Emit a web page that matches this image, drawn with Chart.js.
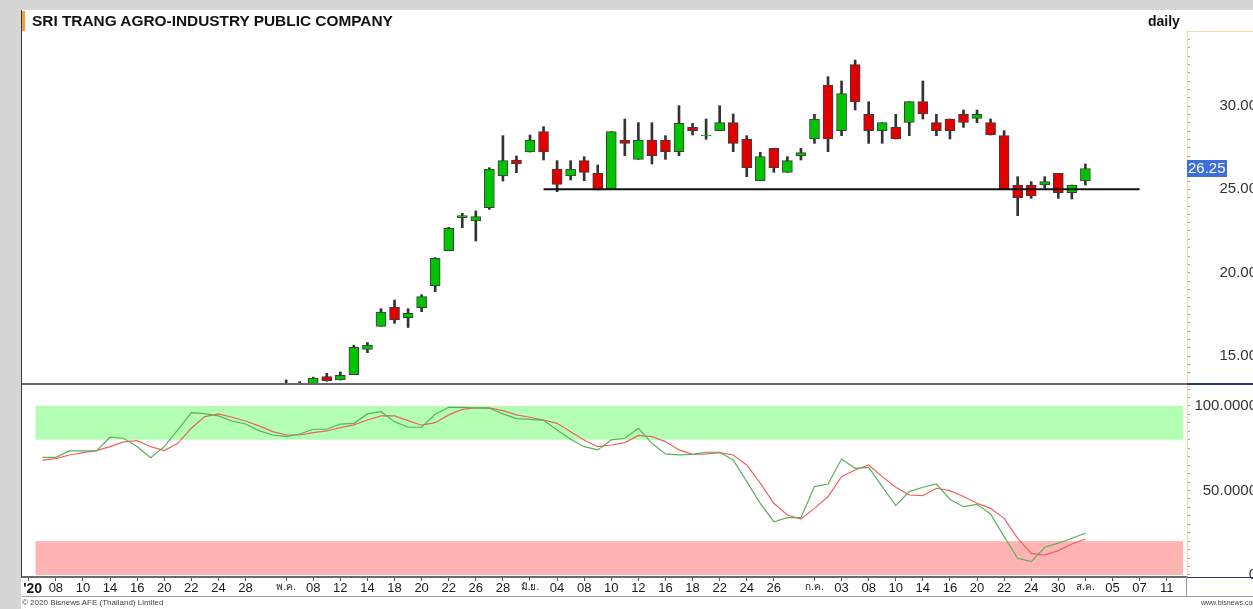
<!DOCTYPE html>
<html>
<head>
<meta charset="utf-8">
<title>SRI TRANG AGRO-INDUSTRY PUBLIC COMPANY</title>
<script src="https://cdn.jsdelivr.net/npm/chart.js@4.4.1/dist/chart.umd.min.js"></script>
<style>
  body { margin: 0; width: 1253px; height: 609px; overflow: hidden; position: relative; background: #fff;
         font-family: "Liberation Sans", Arial, sans-serif; }
  .box { position: absolute; }
  #priceBox { left: 0; top: 0; width: 1257px; height: 384px; }
  #stochBox { left: 0; top: 384px; width: 1257px; height: 211px; }
  .gray_top { left: 0; top: 0; width: 1253px; height: 10px; background: #d6d6d6; }
  .gray_left { left: 0; top: 0; width: 21px; height: 609px; background: #d6d6d6; }
  .frame_left { left: 21px; top: 10px; width: 1px; height: 567px; background: #3a3a3a; }
  .pane_sep { left: 22px; top: 383px; width: 1231px; height: 2px; background: #6a6a6a; }
  .axis_top { left: 1187px; top: 31px; width: 66px; height: 1px; background: #f1dea4; }
  .navy1 { left: 1187px; top: 383px; width: 66px; height: 2px; background: #2b3a6e; }
  .navy2 { left: 1187px; top: 577px; width: 66px; height: 1px; background: #2b3a6e; }
  .band_bottom { left: 22px; top: 596px; width: 1231px; height: 1px; background: #9a9a9a; }
  .band_right { left: 1186px; top: 577px; width: 1px; height: 19px; background: #9a9a9a; }
  .orange { left: 22px; top: 11px; width: 3px; height: 20px; background: #f0a030; }
  .title { left: 32px; top: 12px; font-size: 15.4px; font-weight: bold; color: #111; white-space: nowrap; }
  .daily { left: 1148px; top: 13px; font-size: 14px; font-weight: bold; color: #111; }
  .copy { left: 22px; top: 598px; font-size: 8px; color: #444; white-space: nowrap; }
  .site { left: 1201px; top: 599px; font-size: 7px; color: #444; white-space: nowrap; }
</style>
</head>
<body>

<div class="box" id="priceBox"><canvas id="priceChart"></canvas></div>
<div class="box" id="stochBox"><canvas id="stochChart"></canvas></div>

<div class="box gray_top"></div>
<div class="box gray_left"></div>
<div class="box frame_left"></div>
<div class="box pane_sep"></div>
<div class="box axis_top"></div>
<div class="box navy1"></div>
<div class="box navy2"></div>
<div class="box band_bottom"></div>
<div class="box band_right"></div>
<div class="box orange"></div>
<div class="box title">SRI TRANG AGRO-INDUSTRY PUBLIC COMPANY</div>
<div class="box daily">daily</div>
<div class="box copy">© 2020 Bisnews AFE (Thailand) Limited</div>
<div class="box site">www.bisnews.com</div>

<script>
// daily candles, one slot per trading day (3 Apr .. 3 Aug 2020), 7 empty slots after
const slot_count = 86

// x axis tick labels (slot index -> text)
const tick_index = [0, 2, 4, 6, 8, 10, 12, 14, 16, 19, 21, 23, 25, 27, 29, 31, 33, 35, 37, 39, 41, 43, 45, 47, 49, 51, 53, 55,
                    58, 60, 62, 64, 66, 68, 70, 72, 74, 76, 78, 80, 82, 84]
const tick_text = ["'20", '08', '10', '14', '16', '20', '22', '24', '28', 'พ.ค.', '08', '12', '14', '18', '20', '22', '26', '28',
                   'มิ.ย.', '04', '08', '10', '12', '16', '18', '22', '24', '26',
                   'ก.ค.', '03', '08', '10', '14', '16', '20', '22', '24', '30', 'ส.ค.', '05', '07', '11']

// OHLC (first slots sit below the visible price range)
const opens = [null, null, null, null, null, null, null, null, null, null, null, null, null, null, null, null, null, null, null,
  13.10, 13.20, 13.30, 13.76, 13.56, 13.88, 15.40, 16.78, 17.92, 17.30, 17.90,
  19.20, 21.32, 23.30, 23.10, 23.90, 25.80, 26.76, 27.24, 28.46, 26.22,
  25.80, 26.72, 25.96, 25.00, 27.96, 26.80, 27.96, 27.96, 27.26, 28.72,
  28.20, 28.52, 29.00, 28.00, 25.52, 27.46, 26.02, 27.00, 28.02, 31.26,
  28.52, 32.48, 29.50, 28.52, 28.72, 29.02, 30.26, 29.00, 29.22, 29.50,
  29.26, 29.00, 28.22, 25.26, 25.26, 25.26, 25.96, 24.80, 25.50]
const highs = [null, null, null, null, null, null, null, null, null, null, null, null, null, null, null, null, null, null, null,
  13.56, 13.46, 13.73, 13.96, 14.04, 15.64, 15.81, 17.84, 18.36, 17.84, 18.68,
  20.90, 22.72, 23.56, 23.70, 26.30, 28.22, 27.00, 28.26, 28.76, 26.72,
  26.72, 26.96, 26.46, 28.46, 29.22, 29.00, 29.00, 28.22, 30.02, 28.96,
  29.22, 30.02, 29.52, 28.22, 27.22, 27.46, 26.96, 27.46, 29.50, 31.76,
  31.50, 32.76, 30.26, 29.00, 29.50, 30.26, 31.50, 29.50, 29.22, 29.76,
  29.76, 29.22, 28.52, 25.76, 25.46, 25.76, 25.96, 25.26, 26.52]
const lows = [null, null, null, null, null, null, null, null, null, null, null, null, null, null, null, null, null, null, null,
  13.00, 13.10, 13.25, 13.49, 13.56, 13.88, 15.20, 16.78, 16.96, 16.71, 17.66,
  18.86, 21.32, 22.70, 21.90, 23.80, 25.50, 26.00, 27.24, 26.76, 24.86,
  25.56, 25.52, 24.96, 25.00, 27.02, 26.80, 26.52, 26.80, 27.02, 28.26,
  28.00, 28.52, 27.26, 25.76, 25.52, 26.02, 26.02, 26.76, 27.76, 27.26,
  28.22, 29.76, 27.76, 27.76, 28.02, 28.22, 29.22, 28.22, 28.02, 28.72,
  29.00, 28.26, 25.02, 23.42, 24.46, 25.06, 24.46, 24.42, 25.26]
const closes = [null, null, null, null, null, null, null, null, null, null, null, null, null, null, null, null, null, null, null,
  13.20, 13.30, 13.67, 13.52, 13.84, 15.52, 15.66, 17.64, 17.16, 17.56, 18.56,
  20.86, 22.66, 23.42, 23.36, 26.22, 26.72, 26.52, 27.96, 27.24, 25.30,
  26.22, 26.02, 24.96, 28.46, 27.76, 27.96, 27.02, 27.26, 28.96, 28.52,
  28.24, 29.00, 27.76, 26.30, 26.96, 26.30, 26.72, 27.20, 29.22, 28.02,
  30.74, 30.26, 28.52, 29.00, 28.02, 30.26, 29.52, 28.52, 28.52, 29.02,
  29.50, 28.26, 25.02, 24.50, 24.60, 25.46, 24.80, 25.26, 26.25]

// horizontal support line drawn on the chart
const support_level = 25.0
const support_from = 38
const support_to = 82

// stochastic %K (green) and %D (red)
const stoch_k = [null,
  69.6, 69.6, 73.4, 73.4, 73.4, 81.5, 80.9, 75.9, 69.4, 75.9,
  85.8, 96.0, 95.5, 94.1, 91.1, 89.3, 85.4, 82.8, 81.8, 83.4,
  86.2, 86.2, 89.3, 89.7, 95.3, 96.6, 90.7, 87.4, 87.4, 95.1,
  99.2, 99.2, 98.8, 98.6, 95.3, 92.5, 92.1, 91.5, 85.8, 80.3,
  75.9, 74.0, 79.9, 80.9, 86.8, 77.9, 71.6, 71.0, 71.4, 72.6,
  72.6, 68.0, 55.2, 42.4, 31.5, 33.9, 33.9, 52.3, 53.8, 68.6,
  63.1, 63.7, 52.3, 41.0, 49.3, 51.9, 53.8, 44.8, 40.4, 41.8,
  36.1, 22.7, 9.9, 7.9, 16.4, 18.8, 21.7, 24.7]
const stoch_d = [null,
  68.0, 68.8, 71.0, 72.4, 73.6, 75.9, 78.7, 79.5, 75.9, 73.6,
  77.9, 86.8, 93.7, 95.3, 93.3, 91.1, 88.2, 84.8, 82.8, 82.8,
  84.2, 85.2, 87.2, 88.8, 91.7, 94.1, 94.1, 91.3, 88.6, 90.1,
  94.7, 98.0, 98.8, 98.8, 97.2, 94.7, 93.3, 91.7, 89.7, 84.8,
  79.9, 75.9, 76.9, 78.3, 82.6, 81.8, 78.9, 74.0, 71.4, 71.6,
  72.4, 71.0, 65.1, 54.3, 42.4, 35.5, 33.0, 39.4, 46.4, 58.2,
  62.1, 65.1, 58.2, 51.9, 47.3, 46.9, 51.3, 49.9, 46.4, 42.4,
  39.4, 33.5, 21.7, 12.8, 11.8, 14.4, 18.3, 21.3]

// overbought / oversold zones
const zone_levels = [[80, 100], [0, 20]]
const zone_colors = ['#b3ffb3', '#ffb3b3']

// stochastic axis labels
const stoch_label_values = [0, 50, 100]
const stoch_label_text = ['0', '50.0000', '100.0000']

/////////////////////////////////////////////////////////////////////////////////////////

Chart.defaults.font.family = '"Liberation Sans", Arial, sans-serif'

const x_labels = new Array(slot_count).fill('')
tick_index.forEach((idx, i) => { x_labels[idx] = tick_text[i] })

const body_data = opens.map((o, i) => (o === null ? null : [o, closes[i]]))
const wick_data = lows.map((l, i) => (l === null ? null : [l, highs[i]]))
const body_colors = opens.map((o, i) => (closes[i] >= o ? '#00c400' : '#e10000'))

const support_data = x_labels.map((_, i) => (i >= support_from && i <= support_to ? support_level : null))

// right axis is 70px wide, labels right aligned to the canvas edge (just past the window)
const axis_width = 70

const last_price_tag = {
  id: 'lastPriceTag',
  afterDraw(chart) {
    const last = closes[closes.length - 1]
    const y = chart.scales.y.getPixelForValue(last)
    const ctx = chart.ctx
    const left = chart.chartArea.right
    ctx.save()
    ctx.fillStyle = '#3c6ee0'
    ctx.fillRect(left, y - 8.5, 40, 17)
    ctx.fillStyle = '#fff'
    ctx.font = '15px "Liberation Sans", Arial, sans-serif'
    ctx.textBaseline = 'middle'
    ctx.fillText(last.toFixed(2), left + 1, y + 0.5)
    ctx.restore()
  }
}

const zone_bands = {
  id: 'zoneBands',
  beforeDatasetsDraw(chart) {
    const x = chart.scales.x
    const y = chart.scales.y
    const ctx = chart.ctx
    const x0 = x.getPixelForValue(0.5)
    const x1 = chart.chartArea.right - 4
    ctx.save()
    zone_levels.forEach((z, i) => {
      const top = y.getPixelForValue(z[1])
      const bottom = y.getPixelForValue(z[0])
      ctx.fillStyle = zone_colors[i]
      ctx.fillRect(x0, top, x1 - x0, bottom - top)
    })
    ctx.restore()
  }
}

const price_chart = new Chart(document.getElementById('priceChart'), {
  type: 'bar',
  data: {
    labels: x_labels,
    datasets: [
      {
        type: 'line',
        label: 'Support',
        data: support_data,
        borderColor: '#111',
        borderWidth: 2,
        pointRadius: 0,
        order: 0
      },
      {
        label: 'Body',
        data: body_data,
        backgroundColor: body_colors,
        borderColor: '#3c3c3c',
        borderWidth: 1,
        borderSkipped: false,
        barThickness: 10,
        grouped: false,
        order: 1
      },
      {
        label: 'Wick',
        data: wick_data,
        backgroundColor: '#333',
        barThickness: 2,
        grouped: false,
        order: 2
      }]
  },
  options: {
    responsive: true,
    maintainAspectRatio: false,
    animation: false,
    layout: { padding: { left: 22, top: 31, right: 0, bottom: 1 } },
    plugins: {
      legend: { display: false },
      tooltip: { enabled: false }
    },
    scales: {
      x: { display: false, offset: true },
      y: {
        position: 'right',
        min: 13.38,
        max: 34.5,
        afterFit(s) { s.width = axis_width; s.paddingTop = 0; s.paddingBottom = 0 },
        grid: { drawOnChartArea: false, tickLength: 3, color: '#9a9a9a' },
        border: { color: '#efd9a0', width: 1 },
        ticks: {
          stepSize: 0.5,
          autoSkip: false,
          crossAlign: 'far',
          padding: 4,
          color: '#333',
          font: { size: 15 },
          callback: v => (Math.abs(v % 5) < 1e-6 ? v.toFixed(2) : '')
        }
      }
    }
  },
  plugins: [last_price_tag]
});

const stoch_chart = new Chart(document.getElementById('stochChart'), {
  type: 'line',
  data: {
    labels: x_labels,
    datasets: [
      {
        label: '%K',
        data: stoch_k,
        borderColor: '#5cb05c',
        borderWidth: 1.2,
        pointRadius: 0,
        tension: 0
      },
      {
        label: '%D',
        data: stoch_d,
        borderColor: '#f06060',
        borderWidth: 1.2,
        pointRadius: 0,
        tension: 0
      }]
  },
  options: {
    responsive: true,
    maintainAspectRatio: false,
    animation: false,
    layout: { padding: { left: 22, top: 2, right: 0, bottom: 1 } },
    plugins: {
      legend: { display: false },
      tooltip: { enabled: false }
    },
    scales: {
      x: {
        offset: true,
        afterFit(s) { s.height = 17 },
        grid: {
          offset: false,
          drawOnChartArea: false,
          tickLength: 4,
          color: c => (c.tick && c.tick.label ? '#555' : 'rgba(0,0,0,0)')
        },
        border: { color: '#6a6a6a', width: 2 },
        ticks: {
          autoSkip: false,
          maxRotation: 0,
          padding: 0,
          color: '#1a1a1a',
          // year label sits hard against the left frame, so nudge it right
          callback: (v, i) => (i === 0 ? '  ' + x_labels[i] : x_labels[i]),
          font: c => {
            const t = x_labels[c.index] || ''
            if (t === "'20") return { size: 14, weight: 'bold' }
            if (/[\u0E00-\u0E7F]/.test(t)) return { size: 10 }
            return { size: 13 }
          }
        }
      },
      y: {
        position: 'right',
        min: -1.2,
        max: 111.8,
        afterFit(s) { s.width = axis_width; s.paddingTop = 0; s.paddingBottom = 0 },
        // minor tick every 5, labels only on 0 / 50 / 100
        afterBuildTicks(s) {
          const t = []
          for (let v = 0; v <= 110; v += 5) t.push({ value: v })
          s.ticks = t
        },
        grid: { drawOnChartArea: false, tickLength: 3, color: '#9a9a9a' },
        border: { color: '#efd9a0', width: 1 },
        ticks: {
          autoSkip: false,
          crossAlign: 'far',
          padding: 4,
          color: '#333',
          font: { size: 15 },
          callback: v => {
            const k = stoch_label_values.indexOf(v)
            return k >= 0 ? stoch_label_text[k] : ''
          }
        }
      }
    }
  },
  plugins: [zone_bands]
});
</script>
</body>
</html>
